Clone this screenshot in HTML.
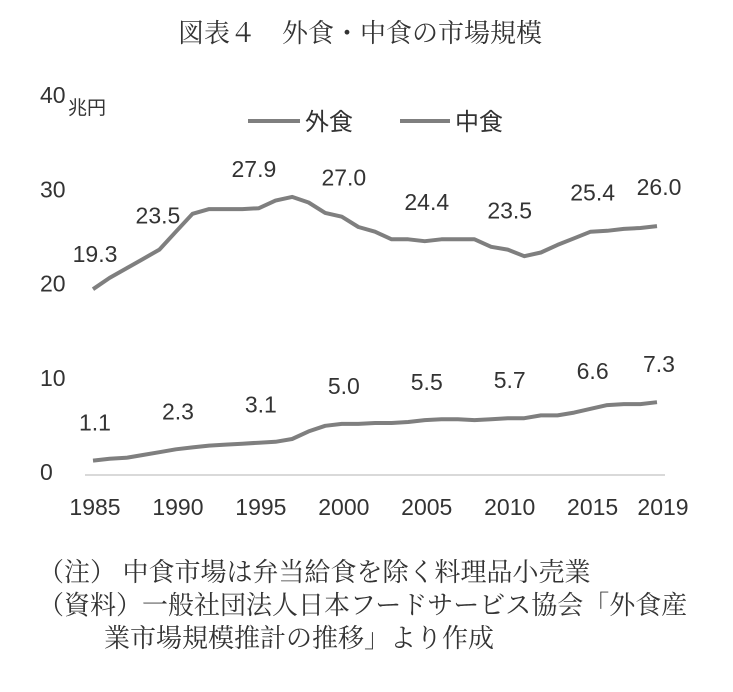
<!DOCTYPE html>
<html><head><meta charset="utf-8"><style>
body{margin:0;background:#fff;width:733px;height:687px;overflow:hidden}
svg text{fill:#333}
.t{font-family:"Liberation Sans","Noto Sans CJK JP",sans-serif}
.s{font-family:"Liberation Serif","Noto Serif CJK SC",serif}
</style></head><body>
<svg width="733" height="687">
<text class="s" x="360" y="42" font-size="26" text-anchor="middle">図表４　外食・中食の市場規模</text>
<g id="yt"></g>
<text class="t" x="68" y="114" font-size="19">兆円</text>
<g>
<line x1="248" y1="121" x2="300" y2="121" stroke="#7f7f7f" stroke-width="4"/>
<text class="t" x="305" y="130" font-size="24">外食</text>
<line x1="400" y1="121" x2="450" y2="121" stroke="#7f7f7f" stroke-width="4"/>
<text class="t" x="455" y="130" font-size="24">中食</text>
</g>
<line x1="85" y1="475" x2="665" y2="475" stroke="#d9d9d9" stroke-width="2"/>
<g id="xt"></g>
<g id="plot"></g>
<text class="s" x="38" y="581" font-size="26">（注） 中食市場は弁当給食を除く料理品小売業</text>
<text class="s" x="38" y="614" font-size="26">（資料）一般社団法人日本フードサービス協会「外食産</text>
<text class="s" x="104" y="647" font-size="26">業市場規模推計の推移」より作成</text>
</svg>
<script>
const years=[];for(let y=1985;y<=2019;y++)years.push(y);
const gaishoku=[19.3,20.5,21.5,22.5,23.5,25.4,27.3,27.8,27.8,27.8,27.9,28.7,29.1,28.5,27.4,27.0,25.9,25.4,24.6,24.6,24.4,24.6,24.6,24.6,23.8,23.5,22.8,23.2,24.0,24.7,25.4,25.5,25.7,25.8,26.0];
const nakashoku=[1.1,1.3,1.4,1.7,2.0,2.3,2.5,2.7,2.8,2.9,3.0,3.1,3.4,4.2,4.8,5.0,5.0,5.1,5.1,5.2,5.4,5.5,5.5,5.4,5.5,5.6,5.6,5.9,5.9,6.2,6.6,7.0,7.1,7.1,7.3];
const yTicks=[0,10,20,30,40];
const xTicks=[1985,1990,1995,2000,2005,2010,2015,2019];
const gLabelYears=[1985,1990,1995,2000,2005,2010,2015,2019];
const gLabelVals=["19.3","23.5","27.9","27.0","24.4","23.5","25.4","26.0"];
const nLabelVals=["1.1","2.3","3.1","5.0","5.5","5.7","6.6","7.3"];
const NS='http://www.w3.org/2000/svg';
const X=y=>93+(y-1985)*(657-93)/34;
const Y=v=>471-v*9.42;
function mk(tag,attrs,parent,text){const e=document.createElementNS(NS,tag);for(const k in attrs)e.setAttribute(k,attrs[k]);if(text!==undefined)e.textContent=text;parent.appendChild(e);return e;}
const yt=document.getElementById('yt'),xt=document.getElementById('xt'),plot=document.getElementById('plot');
yTicks.forEach(v=>{const e=mk('text',{x:40,y:Y(v)+9,'font-size':23,class:'t'},yt,String(v));

});
xTicks.forEach(v=>{const e=mk('text',{x:X(v)+(v===2019?6:2),y:515,'font-size':23,class:'t','text-anchor':'middle'},xt,String(v));

});
function line(vals,name){const d=vals.map((v,i)=>(i?'L':'M')+X(years[i]).toFixed(1)+','+Y(v).toFixed(1)).join(' ');
const p=mk('path',{d:d,fill:'none',stroke:'#7f7f7f','stroke-width':4,'stroke-linejoin':'round'},plot);

}
line(gaishoku,'line-gaishoku');line(nakashoku,'line-nakashoku');
gLabelYears.forEach((yr,i)=>{const i2=years.indexOf(yr);
const gx=X(yr)+(i===1?-18:i===2?-5:2);
const gy=Y(gaishoku[i2])-(i===0?27:i===1?8:31);
const a=mk('text',{x:gx,y:gy,'font-size':23,class:'t','text-anchor':'middle'},plot,gLabelVals[i]);


const b=mk('text',{x:X(yr)+2,y:Y(nakashoku[i2])-30,'font-size':23,class:'t','text-anchor':'middle'},plot,nLabelVals[i]);

});
</script>
</body></html>
